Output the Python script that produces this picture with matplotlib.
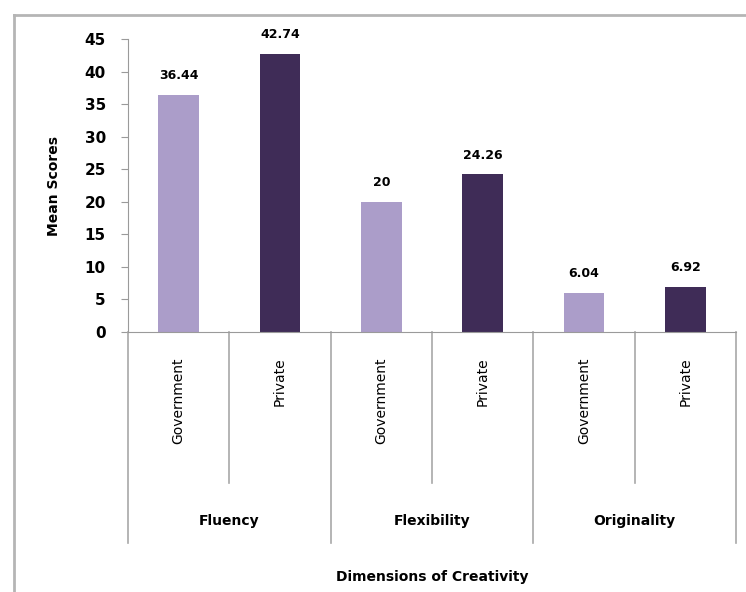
import matplotlib
matplotlib.use("Agg")
import matplotlib.pyplot as plt
from matplotlib.lines import Line2D

dimensions = ["Fluency", "Flexibility", "Originality"]
school_types = ["Government", "Private"]
government = [36.44, 20, 6.04]
private = [42.74, 24.26, 6.92]
y_ticks = [0, 5, 10, 15, 20, 25, 30, 35, 40, 45]

light = "#ab9dc9"
dark = "#3f2c57"

W, H = 746, 592
fig = plt.figure(figsize=(W / 100, H / 100), dpi=100)

# chart frame (top and left edges visible)
fig.add_artist(Line2D([14 / W, 14 / W], [0, 1 - 15 / H], transform=fig.transFigure, color="#b5b5b5", lw=2))
fig.add_artist(Line2D([14 / W, 1], [1 - 15 / H, 1 - 15 / H], transform=fig.transFigure, color="#b5b5b5", lw=2))

left, right = 128 / W, 736 / W
bottom, top = 1 - 332 / H, 1 - 39 / H
ax = fig.add_axes([left, bottom, right - left, top - bottom])

values = []
colors = []
for g, p in zip(government, private):
    values += [g, p]
    colors += [light, dark]
labels = school_types * len(dimensions)
xs = list(range(len(values)))

bars = ax.bar(xs, values, width=0.4, color=colors)
for x, v in zip(xs, values):
    ax.annotate(f"{v:g}", (x, v), xytext=(0, 9), textcoords="offset points",
                ha="center", va="bottom", fontsize=9, fontweight="bold")

ax.set_xlim(-0.5, len(values) - 0.5)
ax.set_ylim(0, 45)
ax.set_yticks(y_ticks)
ax.set_yticklabels([str(t) for t in y_ticks], fontsize=11, fontweight="bold")
ax.tick_params(axis="y", length=5, pad=11, color="#9a9a9a")
ax.set_xticks([])
for s in ["top", "right"]:
    ax.spines[s].set_visible(False)
ax.spines["left"].set_color("#9a9a9a")
ax.spines["bottom"].set_color("#9a9a9a")
ax.set_ylabel("Mean Scores", fontsize=10, fontweight="bold", labelpad=17)

tr = ax.get_xaxis_transform()
axh = 293.0
# dividers
for i in range(len(values) + 1):
    xpos = i - 0.5
    if i % 2 == 0:
        y_end = -(543 - 332) / axh
    else:
        y_end = -(483 - 332) / axh
    ax.add_line(Line2D([xpos, xpos], [0, y_end], transform=tr, color="#a8a8a8", lw=1.2, clip_on=False))

for x, lab in zip(xs, labels):
    ax.text(x, -(357 - 332) / axh, lab, transform=tr, rotation=90, ha="center", va="top", fontsize=10)

for i, d in enumerate(dimensions):
    ax.text(2 * i + 0.5, -(521 - 332) / axh, d, transform=tr, ha="center", va="center",
            fontsize=10, fontweight="bold")

ax.text(2.5, -(577 - 332) / axh, "Dimensions of Creativity", transform=tr, ha="center", va="center",
        fontsize=10, fontweight="bold")

fig.savefig("out.png", dpi=100)
